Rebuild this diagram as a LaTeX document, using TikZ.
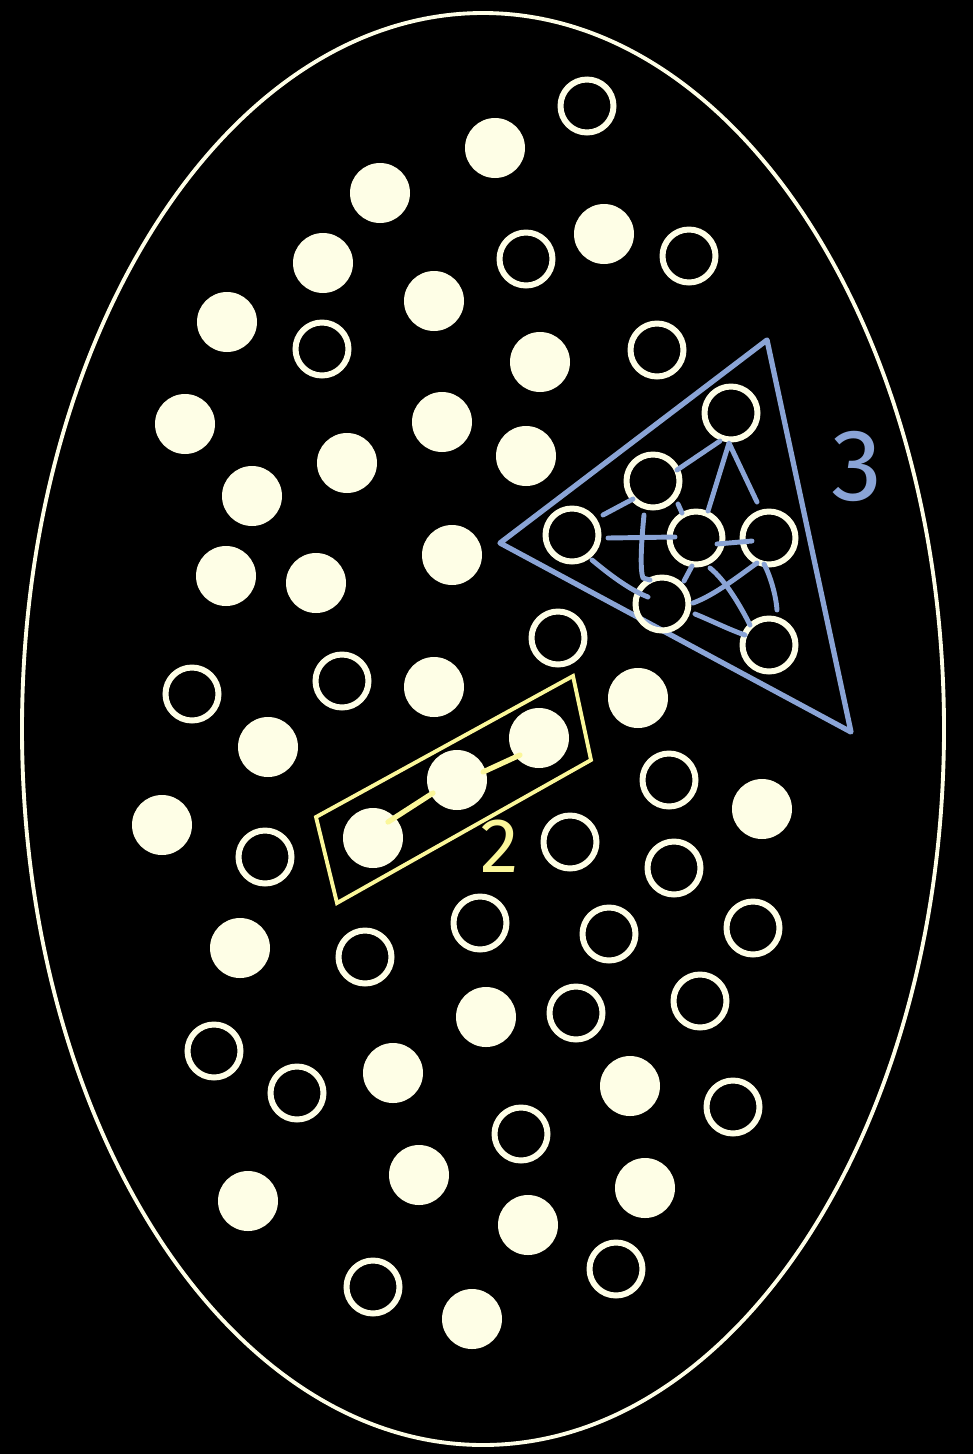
\documentclass[tikz,border=0pt]{standalone}
\usepackage{fontspec}
\setsansfont{Fira Sans}
\definecolor{ivory}{HTML}{FEFEE6}
\definecolor{bluegr}{HTML}{8AA4D6}
\definecolor{yel}{HTML}{FBF79A}
\begin{document}
\begin{tikzpicture}[x=0.01cm,y=-0.01cm,
  fdot/.style={circle,fill=ivory,minimum size=60*0.01cm,inner sep=0pt},
  odot/.style={circle,draw=ivory,line width=1.7pt,minimum size=53*0.01cm,inner sep=0pt},
  bstroke/.style={bluegr,line width=1.4pt,line cap=round,line join=round},
  ystroke/.style={yel,line width=1.5pt,line cap=round}]
\fill[black] (0,0) rectangle (973,1454);
\useasboundingbox (0,0) rectangle (973,1454);
\draw[ivory,line width=1.1pt] (483,729) ellipse [x radius=461, y radius=716];
% filled dots
\foreach \x/\y [count=\i] in {495/148,380/193,323/263,434/301,604/234,227/322,540/362,185/424,442/422,347/463,526/456,252/496,452/555,226/576,316/583,434/687,638/698,268/747,162/825,762/809,240/948,486/1017,393/1073,630/1086,419/1175,248/1201,645/1188,528/1225,472/1319}
  \node[fdot] (f\i) at (\x,\y) {};
% open dots
\foreach \x/\y [count=\i] in {587/106,526/259,689/256,322/349,657/350,558/638,192/694,342/681,669/780,265/857,570/842,674/868,480/923,365/957,609/934,753/928,576/1013,700/1001,214/1051,297/1093,521/1134,733/1107,373/1287,616/1269}
  \node[odot] (o\i) at (\x,\y) {};
% yellow group
\node[fdot] (y1) at (373,838) {};
\node[fdot] (y2) at (457,780) {};
\node[fdot] (y3) at (539,738) {};
\draw[yel,line width=1.1pt,line join=miter] (316,817) -- (573,676) -- (591,760) -- (337,903) -- cycle;
\draw[ystroke] (388,822) -- (433,793);
\draw[ystroke] (483,772) -- (520,755);
\node[yel,font=\sffamily\fontsize{22}{22}\selectfont] (l2) at (500,846) {2};
% blue group
\draw[bluegr,line width=1.5pt,line join=round,line cap=round] (767,340) -- (500,543) -- (851,732) -- cycle;
\node[odot] (t1) at (731,413) {};
\node[odot] (t2) at (653,481) {};
\node[odot] (t3) at (572,535) {};
\node[odot] (t4) at (696,538) {};
\node[odot] (t5) at (769,538) {};
\node[odot] (t6) at (662,604) {};
\node[odot] (t7) at (769,645) {};
\draw[bstroke] (677,470) -- (720,441);
\draw[bstroke] (708,511) -- (729,443) -- (757,502);
\draw[bstroke] (603,515) -- (633,499);
\draw[bstroke] (608,538) -- (675,537);
\draw[bstroke] (644,515) .. controls (641,545) and (640,570) .. (643,578) -- (650,580);
\draw[bstroke] (678,504) -- (682,513);
\draw[bstroke] (717,544) -- (752,541);
\draw[bstroke] (592,560) .. controls (610,575) and (630,590) .. (648,597);
\draw[bstroke] (692,566) -- (684,581);
\draw[bstroke] (710,568) .. controls (725,580) and (740,605) .. (750,625);
\draw[bstroke] (693,603) .. controls (715,595) and (740,575) .. (757,563);
\draw[bstroke] (764,564) .. controls (770,575) and (776,595) .. (777,610);
\draw[bstroke] (695,614) .. controls (710,620) and (730,630) .. (745,635);
\node[bluegr,font=\sffamily\fontsize{29}{29}\selectfont] (l3) at (857,466) {3};
\end{tikzpicture}
\end{document}
